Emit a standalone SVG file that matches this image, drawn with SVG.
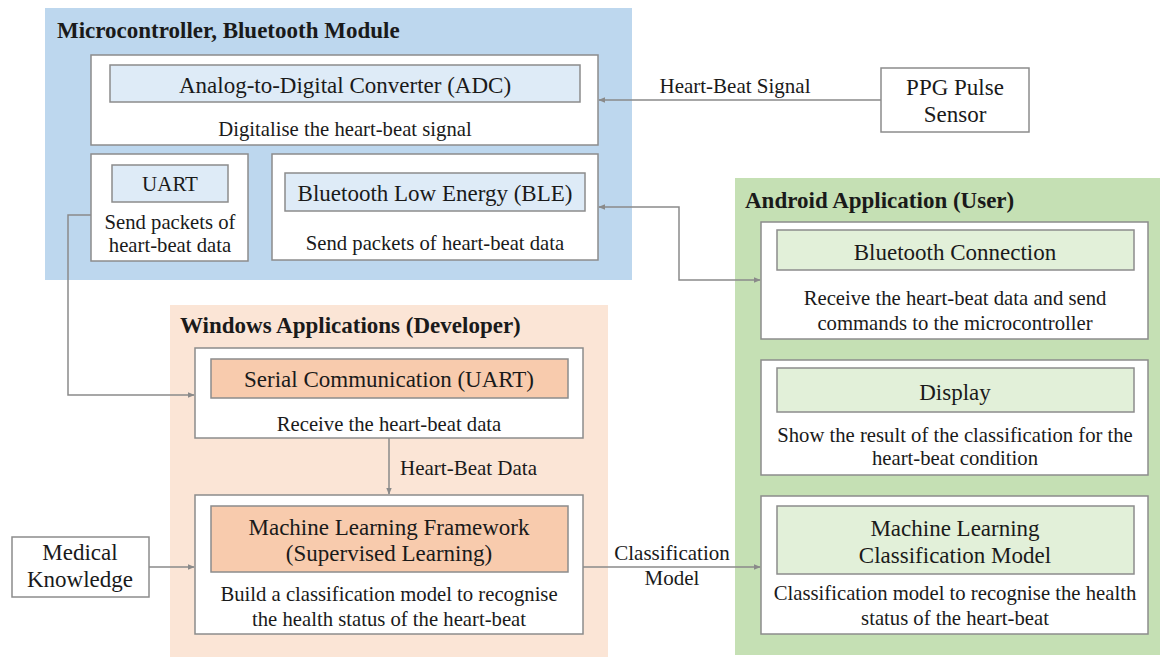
<svg xmlns="http://www.w3.org/2000/svg" width="1162" height="657" viewBox="0 0 1162 657">
<defs>
<style>
text{font-family:"Liberation Serif","Times New Roman",serif;fill:#1a1a1a;text-anchor:middle}
.title{font-weight:bold;font-size:23px;text-anchor:start}
.big{font-size:23px}
.desc{font-size:20.7px}
.lbl{font-size:21px}
.box{fill:#fff;stroke:#8c8c8c;stroke-width:1.5}
.ib{fill:#deebf7;stroke:#8c8c8c;stroke-width:1.5}
.ip{fill:#f8cbad;stroke:#8c8c8c;stroke-width:1.5}
.ig{fill:#e2f0d9;stroke:#8c8c8c;stroke-width:1.5}
.conn{fill:none;stroke:#8a8a8a;stroke-width:1.5}
</style>
<marker id="ah" viewBox="0 0 10 10" refX="9" refY="5" markerWidth="7" markerHeight="7" orient="auto-start-reverse" markerUnits="userSpaceOnUse">
<path d="M0,1 L10,5 L0,9 z" fill="#8a8a8a"/>
</marker>
</defs>
<rect width="1162" height="657" fill="#fff"/>

<g id="panel-mcu">
<rect x="45" y="8" width="587" height="272" fill="#bdd7ee"/>
<text class="title" x="57" y="38">Microcontroller, Bluetooth Module</text>
</g>
<g id="panel-windows">
<rect x="170" y="305" width="438" height="352" fill="#fbe5d6"/>
<text class="title" x="180" y="333">Windows Applications (Developer)</text>
</g>
<g id="panel-android">
<rect x="735" y="178" width="425" height="477" fill="#c5e0b4"/>
<text class="title" x="745" y="208">Android Application (User)</text>
</g>

<g id="adc">
<rect class="box" x="91" y="55" width="507" height="90"/>
<rect class="ib" x="110" y="65" width="470" height="37"/>
<text class="big" x="345" y="93">Analog-to-Digital Converter (ADC)</text>
<text class="desc" x="345" y="136">Digitalise the heart-beat signal</text>
</g>
<g id="uart">
<rect class="box" x="91" y="154" width="157" height="107"/>
<rect class="ib" x="112" y="165" width="116" height="37"/>
<text class="lbl" x="170" y="191">UART</text>
<text class="desc" x="170" y="229">Send packets of</text>
<text class="desc" x="170" y="252">heart-beat data</text>
</g>
<g id="ble">
<rect class="box" x="272" y="154" width="326" height="106"/>
<rect class="ib" x="285" y="173" width="300" height="38"/>
<text class="big" x="435" y="201">Bluetooth Low Energy (BLE)</text>
<text class="desc" x="435" y="250">Send packets of heart-beat data</text>
</g>
<g id="ppg">
<rect class="box" x="881" y="68" width="148" height="64"/>
<text class="big" x="955" y="95">PPG Pulse</text>
<text class="big" x="955" y="122">Sensor</text>
</g>

<g id="serial">
<rect class="box" x="195" y="348" width="388" height="90"/>
<rect class="ip" x="211" y="359" width="357" height="39"/>
<text class="big" x="389" y="387">Serial Communication (UART)</text>
<text class="desc" x="389" y="431">Receive the heart-beat data</text>
</g>
<g id="mlframework">
<rect class="box" x="195" y="495" width="388" height="139"/>
<rect class="ip" x="211" y="506" width="357" height="66"/>
<text class="big" x="389" y="535">Machine Learning Framework</text>
<text class="big" x="389" y="561">(Supervised Learning)</text>
<text class="desc" x="389" y="601">Build a classification model to recognise</text>
<text class="desc" x="389" y="626">the health status of the heart-beat</text>
</g>
<g id="medical">
<rect class="box" x="12" y="537" width="137" height="60"/>
<text class="big" x="80" y="560">Medical</text>
<text class="big" x="80" y="587">Knowledge</text>
</g>

<g id="btconn">
<rect class="box" x="761" y="222" width="387" height="117"/>
<rect class="ig" x="777" y="230" width="357" height="40"/>
<text class="big" x="955" y="260">Bluetooth Connection</text>
<text class="desc" x="955" y="305">Receive the heart-beat data and send</text>
<text class="desc" x="955" y="330">commands to the microcontroller</text>
</g>
<g id="display">
<rect class="box" x="761" y="360" width="387" height="115"/>
<rect class="ig" x="777" y="368" width="357" height="44"/>
<text class="big" x="955" y="400">Display</text>
<text class="desc" x="955" y="442">Show the result of the classification for the</text>
<text class="desc" x="955" y="465">heart-beat condition</text>
</g>
<g id="mlmodel">
<rect class="box" x="761" y="496" width="387" height="138"/>
<rect class="ig" x="777" y="506" width="357" height="68"/>
<text class="big" x="955" y="536">Machine Learning</text>
<text class="big" x="955" y="563">Classification Model</text>
<text class="desc" x="955" y="600">Classification model to recognise the health</text>
<text class="desc" x="955" y="625">status of the heart-beat</text>
</g>

<g id="connectors">
<line class="conn" x1="881" y1="100" x2="599" y2="100" marker-end="url(#ah)"/>
<text class="lbl" x="735" y="93">Heart-Beat Signal</text>
<polyline class="conn" points="599,207 679,207 679,280 760,280" marker-start="url(#ah)" marker-end="url(#ah)"/>
<polyline class="conn" points="91,215 68,215 68,395 194,395" marker-end="url(#ah)"/>
<line class="conn" x1="389" y1="438" x2="389" y2="494" marker-end="url(#ah)"/>
<text class="lbl" x="400" y="475" style="text-anchor:start">Heart-Beat Data</text>
<line class="conn" x1="149" y1="567" x2="194" y2="567" marker-end="url(#ah)"/>
<line class="conn" x1="583" y1="567" x2="760" y2="567" marker-end="url(#ah)"/>
<text class="lbl" x="672" y="560">Classification</text>
<text class="lbl" x="672" y="585">Model</text>
</g>
</svg>
